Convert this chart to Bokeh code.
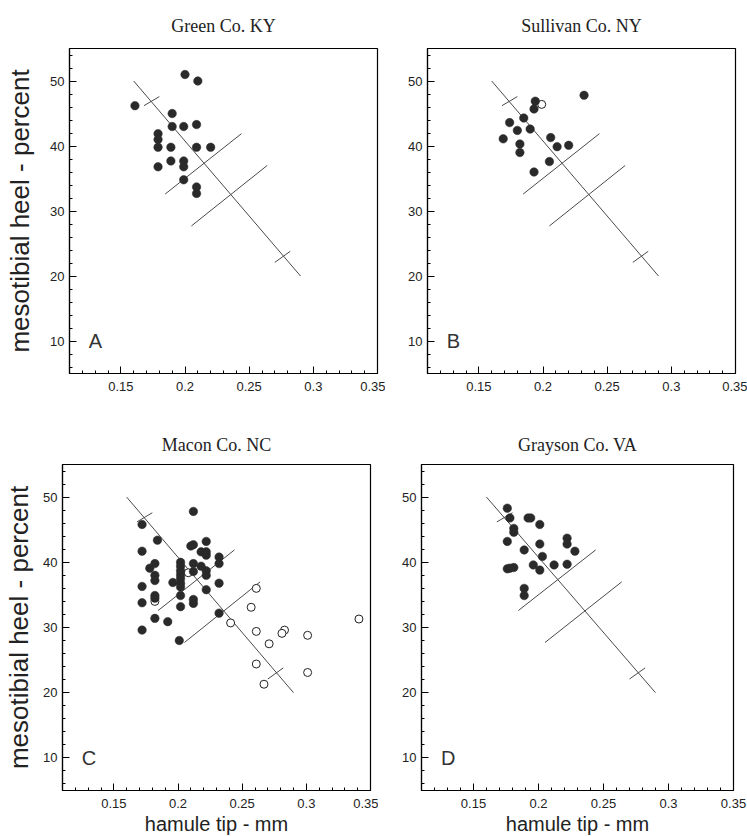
from bokeh.plotting import figure
from bokeh.layouts import column, row
from bokeh.models import FixedTicker, Label, Range1d
from bokeh.embed import file_html
from bokeh.resources import INLINE

# ---------------- data ----------------
titles = ["Green Co. KY", "Sullivan Co. NY", "Macon Co. NC", "Grayson Co. VA"]
letters = ["A", "B", "C", "D"]
x_label = "hamule tip - mm"
y_label = "mesotibial heel - percent"

x_ticks = [0.15, 0.2, 0.25, 0.3, 0.35]
x_tick_labels = ["0.15", "0.2", "0.25", "0.3", "0.35"]
x_minor = [0.11, 0.12, 0.13, 0.14, 0.16, 0.17, 0.18, 0.19, 0.21, 0.22, 0.23, 0.24,
           0.26, 0.27, 0.28, 0.29, 0.31, 0.32, 0.33, 0.34]
y_ticks = [10, 20, 30, 40, 50]
y_tick_labels = ["10", "20", "30", "40", "50"]
y_minor = [6, 8, 12, 14, 16, 18, 22, 24, 26, 28, 32, 34, 36, 38, 42, 44, 46, 48, 52, 54]

# discriminant line and its cross marks (same in every panel)
disc_x = [0.16, 0.29]
disc_y = [50, 20]
perp_x0 = [0.1845, 0.205]
perp_y0 = [32.6, 27.7]
perp_x1 = [0.244, 0.264]
perp_y1 = [41.9, 37.0]
mark_x0 = [0.168, 0.270]
mark_y0 = [46.2, 22.1]
mark_x1 = [0.180, 0.282]
mark_y1 = [47.6, 23.8]

# A: Green Co. KY
a_x = [0.200, 0.210, 0.161, 0.190, 0.190, 0.199, 0.209, 0.179, 0.179, 0.179,
       0.189, 0.209, 0.220, 0.179, 0.189, 0.199, 0.199, 0.199, 0.209, 0.209]
a_y = [51.0, 50.0, 46.2, 45.0, 43.0, 43.0, 43.3, 41.9, 41.0, 39.8,
       39.8, 39.8, 39.8, 36.8, 37.7, 37.7, 36.8, 34.8, 33.7, 32.7]
a_ox = []
a_oy = []

# B: Sullivan Co. NY
b_x = [0.232, 0.194, 0.193, 0.185, 0.174, 0.180, 0.190, 0.169, 0.206, 0.182,
       0.211, 0.220, 0.182, 0.205, 0.193]
b_y = [47.8, 46.9, 45.7, 44.3, 43.6, 42.4, 42.6, 41.1, 41.3, 40.3,
       39.9, 40.1, 39.0, 37.6, 36.0]
b_ox = [0.199]
b_oy = [46.4]

# C: Macon Co. NC
c_x = [0.212, 0.172, 0.184, 0.172, 0.210, 0.212, 0.222, 0.218, 0.222, 0.222,
       0.232, 0.232, 0.182, 0.178, 0.202, 0.202, 0.202, 0.202, 0.202, 0.202,
       0.202, 0.202, 0.202, 0.212, 0.212, 0.218, 0.222, 0.222, 0.182, 0.182,
       0.196, 0.172, 0.222, 0.232, 0.182, 0.182, 0.172, 0.212, 0.212, 0.182,
       0.192, 0.172, 0.201, 0.232]
c_y = [47.8, 45.8, 43.4, 41.7, 42.5, 42.7, 43.2, 41.6, 41.6, 41.1,
       40.8, 39.8, 39.8, 39.1, 40.0, 39.4, 38.7, 38.1, 37.5, 36.8,
       36.2, 34.9, 33.2, 39.8, 38.6, 39.4, 38.7, 38.0, 38.0, 37.2,
       36.9, 36.3, 35.8, 36.8, 34.9, 34.5, 33.8, 34.3, 33.7, 31.4,
       30.9, 29.6, 28.0, 32.2]
c_ox = [0.208, 0.182, 0.261, 0.257, 0.241, 0.261, 0.283, 0.281, 0.301, 0.271,
        0.261, 0.301, 0.267, 0.341]
c_oy = [38.4, 34.0, 36.0, 33.1, 30.7, 29.4, 29.6, 29.1, 28.8, 27.5,
        24.4, 23.1, 21.3, 31.3]

# D: Grayson Co. VA
d_x = [0.176, 0.178, 0.181, 0.181, 0.176, 0.192, 0.194, 0.201, 0.201, 0.189,
       0.203, 0.222, 0.222, 0.228, 0.176, 0.178, 0.181, 0.196, 0.201, 0.212,
       0.222, 0.189, 0.189]
d_y = [48.3, 46.8, 45.2, 44.6, 43.2, 46.8, 46.8, 45.8, 42.8, 41.9,
       40.9, 43.7, 42.8, 41.7, 39.0, 39.1, 39.2, 39.6, 38.8, 39.6,
       39.7, 36.0, 34.9]
d_ox = []
d_oy = []

# ---------------- styling ----------------
SANS = "Liberation Sans"
SERIF = "Liberation Serif"
INK = "#222222"
LINE = "#4a4a4a"


def make_panel(idx, xs, ys, oxs, oys, left, fw, right, top, fh, bottom,
               show_ylab, show_xlab, ylab_standoff=8, title_standoff=20):
    p = figure(frame_width=fw, frame_height=fh,
               x_range=Range1d(0.11, 0.35), y_range=Range1d(5, 55),
               output_backend="svg", toolbar_location=None,
               min_border_left=left, min_border_right=right,
               min_border_top=top, min_border_bottom=bottom,
               title=titles[idx])
    p.title.align = "center"
    p.title.text_font = SERIF
    p.title.text_font_size = "18px"
    p.title.text_font_style = "normal"
    p.title.text_color = INK
    p.title.standoff = title_standoff

    p.xgrid.visible = False
    p.ygrid.visible = False
    p.outline_line_color = "black"
    p.outline_line_width = 1.2
    p.background_fill_color = "white"
    p.border_fill_color = "white"

    p.xaxis.ticker = FixedTicker(ticks=x_ticks, minor_ticks=x_minor)
    p.yaxis.ticker = FixedTicker(ticks=y_ticks, minor_ticks=y_minor)
    p.xaxis.major_label_overrides = {t: l for t, l in zip(x_ticks, x_tick_labels)}
    p.yaxis.major_label_overrides = {t: l for t, l in zip(y_ticks, y_tick_labels)}
    for ax in (p.xaxis, p.yaxis):
        ax.major_tick_in = 7
        ax.major_tick_out = 0
        ax.minor_tick_in = 3
        ax.minor_tick_out = 0
        ax.axis_line_color = "black"
        ax.axis_line_width = 1.2
        ax.major_tick_line_color = "black"
        ax.minor_tick_line_color = "black"
        ax.major_label_text_font = SANS
        ax.major_label_text_font_size = "13px"
        ax.major_label_text_color = INK
        ax.axis_label_text_font = SANS
        ax.axis_label_text_font_style = "normal"
        ax.axis_label_text_color = INK
    p.xaxis.major_label_standoff = 8
    p.yaxis.major_label_standoff = 5
    if show_ylab:
        p.yaxis.axis_label = y_label
        p.yaxis.axis_label_text_font_size = "26px"
        p.yaxis.axis_label_standoff = ylab_standoff
    if show_xlab:
        p.xaxis.axis_label = x_label
        p.xaxis.axis_label_text_font_size = "20px"
        p.xaxis.axis_label_standoff = 2

    p.line(disc_x, disc_y, line_color=LINE, line_width=1)
    p.segment(perp_x0, perp_y0, perp_x1, perp_y1, line_color=LINE, line_width=1)
    p.segment(mark_x0, mark_y0, mark_x1, mark_y1, line_color=LINE, line_width=1)

    if oxs:
        p.scatter(oxs, oys, marker="circle", size=8, fill_color="white",
                  line_color="#222222", line_width=1)
    p.scatter(xs, ys, marker="circle", size=8.5, fill_color="#2a2a2a",
              line_color="#2a2a2a", line_width=0.5)

    p.add_layout(Label(x=0.125, y=10, text=letters[idx], text_font=SANS,
                       text_font_size="20px", text_color="#333333",
                       text_baseline="middle", text_align="left"))
    return p


pA = make_panel(0, a_x, a_y, a_ox, a_oy, left=69, fw=308, right=8, top=48, fh=325,
                bottom=45, show_ylab=True, show_xlab=False, ylab_standoff=12,
                title_standoff=25)
pB = make_panel(1, b_x, b_y, b_ox, b_oy, left=42, fw=308, right=12, top=48, fh=325,
                bottom=45, show_ylab=False, show_xlab=False, title_standoff=25)
pC = make_panel(2, c_x, c_y, c_ox, c_oy, left=62, fw=308, right=8, top=46, fh=326,
                bottom=46, show_ylab=True, show_xlab=True, ylab_standoff=6,
                title_standoff=20)
pD = make_panel(3, d_x, d_y, d_ox, d_oy, left=43, fw=312, right=14, top=46, fh=326,
                bottom=46, show_ylab=False, show_xlab=True, title_standoff=20)

layout = column(row(pA, pB, spacing=0), row(pC, pD, spacing=0), spacing=0)

html = file_html(layout, INLINE)
html = html.replace("<head>", "<head><style>html,body{margin:0;padding:0;}</style>", 1)
open("out.html", "w").write(html)
